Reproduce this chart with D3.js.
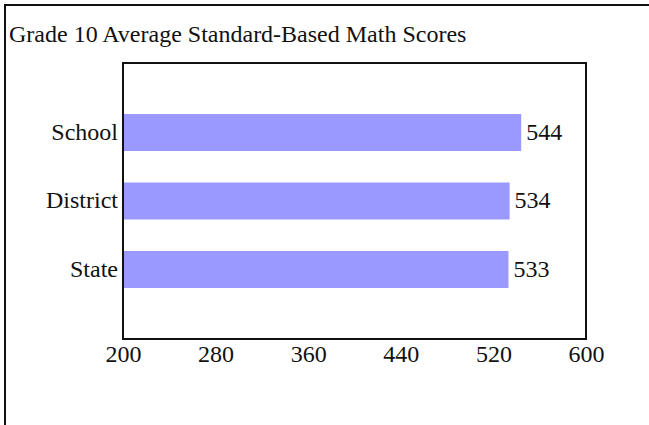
<!DOCTYPE html>
<html>
<head>
<meta charset="utf-8">
<script src="https://cdnjs.cloudflare.com/ajax/libs/d3/7.8.5/d3.min.js"></script>
<style>
  body { margin: 0; background: #fff; }
  text { font-family: "Liberation Serif", "Times New Roman", serif; fill: #111; }
</style>
</head>
<body>
<div id="chart"></div>
<script>
const title = 'Grade 10 Average Standard-Based Math Scores';
const categories = ['School', 'District', 'State'];
const scores = [544, 534, 533];
const xTicks = [200, 280, 360, 440, 520, 600];

const width = 649;
const height = 425;
const plot = { left: 123, right: 586, top: 63, bottom: 339 };
const fontSize = '24px';

const svg = d3.select('#chart')
    .append('svg')
    .attr('width', width)
    .attr('height', height);

// outer border (top + left only)
svg.append('path')
    .attr('d', `M5,${height} V5 H${width}`)
    .attr('fill', 'none')
    .attr('stroke', '#111')
    .attr('stroke-width', 2);

svg.append('text')
    .attr('x', 9)
    .attr('y', 42)
    .style('font-size', fontSize)
    .text(title);

const xScale = d3.scaleLinear()
    .domain([200, 600])
    .range([plot.left, plot.right]);

const yScale = d3.scaleBand()
    .domain(categories)
    .range([plot.top, plot.bottom])
    .paddingInner(0.46)
    .paddingOuter(0.745);

const data = categories.map((c, i) => ({ cat: c, val: scores[i] }));

svg.selectAll('.bar')
    .data(data)
    .enter()
    .append('rect')
    .attr('class', 'bar')
    .attr('x', xScale(200))
    .attr('y', d => yScale(d.cat))
    .attr('width', d => xScale(d.val) - xScale(200))
    .attr('height', yScale.bandwidth())
    .attr('fill', '#9999ff');

svg.selectAll('.val-label')
    .data(data)
    .enter()
    .append('text')
    .attr('class', 'val-label')
    .attr('x', d => xScale(d.val) + 5)
    .attr('y', d => yScale(d.cat) + yScale.bandwidth() / 2)
    .attr('dy', '0.3em')
    .style('font-size', fontSize)
    .text(d => d.val);

svg.selectAll('.cat-label')
    .data(data)
    .enter()
    .append('text')
    .attr('class', 'cat-label')
    .attr('x', plot.left - 5)
    .attr('y', d => yScale(d.cat) + yScale.bandwidth() / 2)
    .attr('dy', '0.3em')
    .attr('text-anchor', 'end')
    .style('font-size', fontSize)
    .text(d => d.cat);

// plot frame
svg.append('rect')
    .attr('x', plot.left)
    .attr('y', plot.top)
    .attr('width', plot.right - plot.left)
    .attr('height', plot.bottom - plot.top)
    .attr('fill', 'none')
    .attr('stroke', '#111')
    .attr('stroke-width', 2);

const xAxis = svg.append('g')
    .attr('transform', `translate(0,${plot.bottom})`)
    .call(d3.axisBottom(xScale).tickValues(xTicks).tickSize(0).tickPadding(0));
xAxis.select('.domain').remove();
xAxis.selectAll('text')
    .attr('y', 23)
    .attr('dy', 0)
    .style('font-family', '"Liberation Serif", "Times New Roman", serif')
    .style('font-size', fontSize)
    .style('fill', '#111');
</script>
</body>
</html>
